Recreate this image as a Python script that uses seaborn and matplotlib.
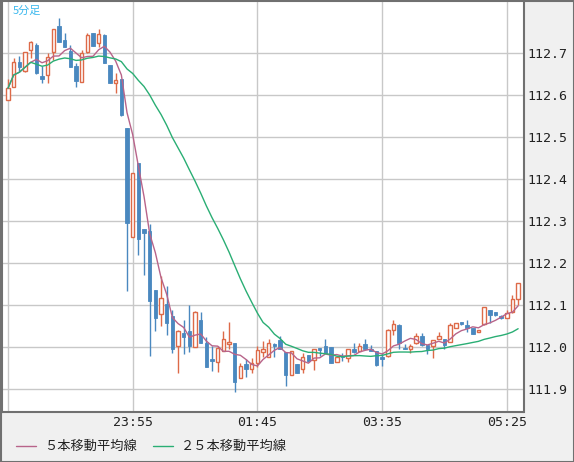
import numpy as np
import pandas as pd
import matplotlib
matplotlib.use("Agg")
import matplotlib.pyplot as plt
import seaborn as sns

opens = [112.59,112.62,112.68,112.659,112.709,112.72,112.646,112.648,112.702,112.765,
         112.732,112.706,112.67,112.631,112.704,112.748,112.724,112.744,112.672,112.629,
         112.64,112.522,112.262,112.44,112.281,112.277,112.137,112.079,112.103,112.075,
         112.002,112.033,112.039,112.0,112.065,112.011,111.972,111.964,111.991,112.007,
         112.01,111.926,111.96,111.948,111.963,111.99,111.978,112.007,112.017,111.988,
         111.933,111.96,111.948,111.981,111.97,111.998,112.002,112.0,111.964,111.98,
         111.974,111.996,111.991,112.007,111.995,111.991,111.976,111.979,112.041,112.053,
         111.999,111.996,112.01,112.027,112.006,112.002,112.019,112.019,112.012,112.045,
         112.061,112.052,112.047,112.037,112.056,112.09,112.083,112.075,112.071,112.085,112.114]
closes = [112.617,112.68,112.668,112.702,112.726,112.652,112.64,112.692,112.757,112.728,
          112.716,112.668,112.635,112.7,112.744,112.718,112.746,112.676,112.63,112.637,
          112.553,112.297,112.414,112.257,112.273,112.111,112.071,112.117,112.059,111.997,
          112.039,112.024,112.002,112.083,112.011,111.954,111.968,111.998,112.021,112.012,
          111.918,111.956,111.948,111.962,111.994,111.996,112.01,112.003,111.995,111.934,
          111.991,111.94,111.978,111.968,111.995,111.994,111.986,111.963,111.976,111.977,
          111.997,111.99,112.004,111.996,111.991,111.958,111.972,112.041,112.055,112.011,
          111.996,112.004,112.027,112.006,111.995,112.017,112.027,112.006,112.053,112.057,
          112.056,112.047,112.031,112.041,112.095,112.077,112.077,112.069,112.082,112.114,112.152]
highs = [112.64,112.69,112.694,112.704,112.73,112.724,112.67,112.7,112.757,112.783,
         112.748,112.72,112.676,112.708,112.748,112.748,112.757,112.746,112.672,112.654,
         112.64,112.522,112.414,112.44,112.281,112.294,112.137,112.17,112.146,112.089,
         112.041,112.065,112.1,112.087,112.085,112.025,112.002,112.002,112.04,112.061,
         112.01,111.962,111.972,111.974,112.002,112.016,112.021,112.01,112.027,111.988,
         111.991,111.96,111.986,111.981,111.995,111.998,112.021,112.0,111.976,111.986,
         111.997,112.01,112.01,112.019,112.006,111.991,111.986,112.044,112.065,112.056,
         112.009,112.008,112.033,112.033,112.006,112.017,112.037,112.019,112.059,112.057,
         112.061,112.065,112.047,112.041,112.095,112.09,112.085,112.076,112.089,112.125,112.152]
lows = [112.589,112.62,112.656,112.656,112.688,112.65,112.63,112.63,112.684,112.728,
        112.716,112.668,112.62,112.631,112.7,112.718,112.716,112.676,112.63,112.606,
        112.55,112.135,112.262,112.22,112.172,111.98,112.04,112.05,112.029,111.987,
        111.938,111.984,111.99,112.0,112.011,111.954,111.944,111.942,111.991,111.996,
        111.894,111.926,111.929,111.938,111.954,111.976,111.978,111.978,111.995,111.908,
        111.933,111.94,111.938,111.966,111.946,111.98,111.986,111.963,111.964,111.968,
        111.966,111.986,111.991,111.996,111.991,111.956,111.956,111.978,112.029,111.997,
        111.996,111.987,112.007,112.003,111.984,111.974,112.019,111.995,112.012,112.045,
        112.054,112.037,112.031,112.037,112.054,112.059,112.075,112.067,112.071,112.081,112.101]
tick_idx = [22, 44, 66, 88]
tick_labels = ["23:55", "01:45", "03:35", "05:25"]
price_ticks = [111.9, 112.0, 112.1, 112.2, 112.3, 112.4, 112.5, 112.6, 112.7]

df = pd.DataFrame({"o": opens, "h": highs, "l": lows, "c": closes})
df["i"] = np.arange(len(df))
df["ma5"] = df["c"].rolling(5, min_periods=1).mean()
df["ma25"] = df["c"].rolling(25, min_periods=1).mean()

sns.set_style("white")
plt.rcParams['font.family'] = ['Noto Sans CJK JP', 'DejaVu Sans']

UP, DN = "#dd6a48", "#4a88bf"
C5, C25 = "#b8648a", "#2aae74"

W, H = 574, 462
fig = plt.figure(figsize=(W/100, H/100), dpi=100, facecolor="#f0f0f0")
ax = fig.add_axes([2/W, 1-412/H, 521.5/W, 412/H])
ax.set_facecolor("white")

up = df[df.c >= df.o]
dn = df[df.c < df.o]
ax.vlines(up.i, up.l, up.h, color=UP, lw=1, zorder=3)
ax.vlines(dn.i, dn.l, dn.h, color=DN, lw=1, zorder=3)
ax.bar(up.i, (up.c - up.o).clip(lower=0.0015), bottom=up.o, width=0.62,
       facecolor="white", edgecolor=UP, lw=1, zorder=4)
ax.bar(dn.i, (dn.o - dn.c).clip(lower=0.0015), bottom=dn.c, width=0.62,
       facecolor=DN, edgecolor=DN, lw=0.6, zorder=4)
sns.lineplot(data=df, x="i", y="ma5", ax=ax, color=C5, lw=1, zorder=5)
sns.lineplot(data=df, x="i", y="ma25", ax=ax, color=C25, lw=1, zorder=5)

ax.set_xlim(-1.06, 90.95)
ax.set_ylim(111.846, 112.827)
ax.set_xticks([0] + tick_idx)
ax.set_xticklabels([""] + tick_labels, family="DejaVu Sans Mono", fontsize=9.5, color="#222")
ax.set_yticks(price_ticks)
ax.yaxis.tick_right()
ax.set_yticklabels([f"{v:.1f}" for v in price_ticks], family="DejaVu Sans Mono",
                   fontsize=9.5, color="#222")
ax.tick_params(length=0, pad=3)
ax.set_xlabel(""); ax.set_ylabel("")
ax.grid(True, color="#c8c8c8", lw=1)
ax.set_axisbelow(True)
for s in ax.spines.values():
    s.set_color("#707070"); s.set_linewidth(1.5)

ax.text(0.02, 0.985, "5分足", transform=ax.transAxes, color="#3ab8ee",
        fontsize=8, va="top", ha="left")

fig.lines.append(plt.Line2D([16/W, 36/W], [1-446/H]*2, color=C5, lw=1, transform=fig.transFigure))
fig.text(44/W, 1-446/H, "５本移動平均線", fontsize=9.5, va="center", color="#222")
fig.lines.append(plt.Line2D([153/W, 173/W], [1-446/H]*2, color=C25, lw=1, transform=fig.transFigure))
fig.text(181/W, 1-446/H, "２５本移動平均線", fontsize=9.5, va="center", color="#222")
fig.patches.append(plt.Rectangle((0.5/W, 0.5/H), 1-1/W, 1-1/H, transform=fig.transFigure,
                                 fill=False, edgecolor="#707070", lw=1.5))
fig.savefig("out.png", dpi=100, facecolor=fig.get_facecolor())
